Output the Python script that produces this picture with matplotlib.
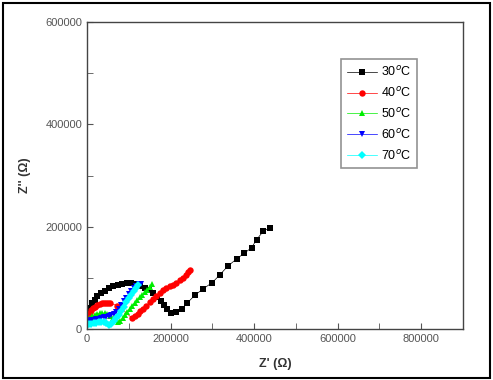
import matplotlib
matplotlib.use("Agg")
import matplotlib.pyplot as plt
from matplotlib.patches import Rectangle

plt.rcParams['font.family'] = ['Liberation Sans', 'DejaVu Sans']

# Nyquist data, Z' and Z'' in ohm
x30 = [0, 3000, 7000, 12000, 18000, 25000, 33000, 42000, 52000, 62000, 73000, 84000,
       95000, 106000, 117000, 128000, 138000, 148000, 158000, 167000, 176000, 184000,
       192000, 200000, 214000, 227000, 240000, 258000, 277000, 300000, 318000, 337000,
       358000, 376000, 394000, 406000, 422000, 437000]
y30 = [28000, 35000, 42000, 50000, 57000, 64000, 70000, 75000, 80000, 84000, 87000, 89000,
       90000, 89500, 88000, 85000, 81000, 76000, 70000, 63000, 55000, 47000,
       39000, 31000, 34000, 40000, 51000, 66000, 78000, 91000, 106000, 123000,
       137000, 148000, 159000, 175000, 191000, 198000]

x40 = [0, 3000, 6000, 10000, 15000, 20000, 25000, 30000, 35000, 40000, 45000, 50000, 55000,
       72000, 78000, 108000, 115000, 122000, 128000, 135000, 142000, 150000, 158000, 166000,
       174000, 182000, 190000, 198000, 206000, 214000, 222000, 229000, 236000, 242000, 247000]
y40 = [22000, 27000, 32000, 37000, 41000, 44000, 46500, 48500, 50000, 51000, 51500, 51500, 50500,
       46000, 44000, 21000, 25000, 30000, 35000, 40000, 46000, 52000, 58000, 64000,
       71000, 76000, 80000, 84000, 87000, 91000, 95000, 100000, 106000, 111000, 116000]

x50 = [0, 4000, 8000, 13000, 18000, 24000, 30000, 36000, 42000, 48000, 55000, 62000, 68000,
       74000, 80000, 85000, 90000, 96000, 102000, 108000, 114000, 120000, 126000, 132000,
       138000, 144000, 150000, 156000]
y50 = [16000, 19000, 22000, 25000, 27000, 29000, 30500, 31500, 31000, 29000, 25000, 21000, 17000,
       14000, 15000, 22000, 28000, 34000, 40000, 46000, 51000, 57000, 62000, 67000,
       72000, 77000, 83000, 89000]

x60 = [0, 5000, 10000, 16000, 22000, 28000, 34000, 40000, 46000, 52000, 58000, 64000, 70000,
       76000, 82000, 88000, 94000, 100000, 106000, 112000, 118000, 124000, 130000]
y60 = [14000, 15500, 17000, 18500, 19500, 20500, 21500, 23000, 24500, 26000, 27500, 30000, 34000,
       40000, 47000, 54000, 61000, 68000, 75000, 81000, 85000, 88000, 89000]

x70 = [0, 5000, 10000, 16000, 22000, 28000, 34000, 40000, 46000, 52000, 58000, 64000, 70000,
       76000, 82000, 88000, 94000, 100000, 106000, 112000, 117000, 121000]
y70 = [8000, 9000, 10000, 11000, 12000, 13000, 14000, 14500, 12000, 8000, 9000, 15000, 21000,
       28000, 36000, 44000, 52000, 60000, 67000, 75000, 81000, 86000]

labels = ['30$^{o}$C', '40$^{o}$C', '50$^{o}$C', '60$^{o}$C', '70$^{o}$C']
colors = ['black', 'red', '#00ee00', 'blue', 'cyan']
markers = ['s', 'o', '^', 'v', 'D']
sizes = [5, 4.6, 4.6, 4.6, 4]

fig = plt.figure(figsize=(4.93, 3.8), dpi=100)
ax = fig.add_axes([0.1765, 0.134, 0.7625, 0.808])

series = [(x30, y30), (x40, y40), (x50, y50), (x60, y60), (x70, y70)]
for (xs, ys), lab, c, m, s in zip(series, labels, colors, markers, sizes):
    ax.plot(xs, ys, color=c, marker=m, markersize=s, linewidth=0.5,
            markeredgewidth=0, label=lab)

ax.set_xlim(0, 900000)
ax.set_ylim(0, 600000)
ax.set_xticks([0, 200000, 400000, 600000, 800000])
ax.set_yticks([0, 200000, 400000, 600000])
ax.set_xticks(range(100000, 900001, 200000), minor=True)
ax.set_yticks(range(100000, 600000, 200000), minor=True)
ax.tick_params(which='both', direction='in', labelsize=8, labelcolor='#555555', color='#555555')
ax.tick_params(which='both', length=4)
for sp in ax.spines.values():
    sp.set_color('#444444')
    sp.set_linewidth(1.0)

ax.set_xlabel("Z' (\u03a9)", fontsize=9, fontweight='bold', color='#333333', labelpad=10)
ax.set_ylabel("Z'' (\u03a9)", fontsize=9, fontweight='bold', color='#333333', labelpad=10)

leg = ax.legend(loc='upper right', bbox_to_anchor=(0.877, 0.878), borderaxespad=0,
                fontsize=9, fancybox=False, handlelength=2.4, handletextpad=0.3,
                labelspacing=0.55, borderpad=0.45)
leg.get_frame().set_edgecolor('#777777')
leg.get_frame().set_linewidth(1.2)

# outer frame around the whole picture
fig.patches.append(Rectangle((0.006, 0.006), 0.988, 0.986, transform=fig.transFigure,
                             fill=False, edgecolor='black', linewidth=1.5))

fig.savefig('out.png', dpi=100)
